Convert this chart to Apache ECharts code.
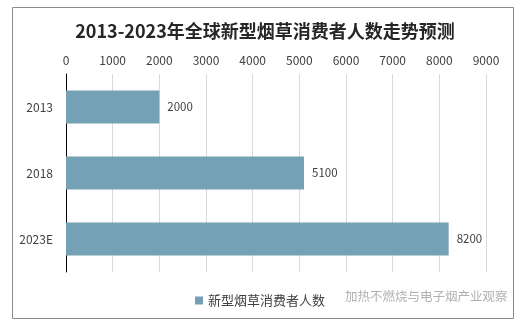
<!DOCTYPE html>
<html>
<head>
<meta charset="utf-8">
<script src="https://cdn.jsdelivr.net/npm/echarts@6/dist/echarts.min.js"></script>
<style>
  html, body { margin: 0; padding: 0; background: #fff; }
  #chart { width: 530px; height: 328px; }
</style>
</head>
<body>
<div id="chart"></div>
<script>
// Global new-type tobacco consumers, 2013–2023 (forecast)
const categories = ['2013', '2018', '2023E'];
const consumers = [2000, 5100, 8200];
const seriesName = '新型烟草消费者人数';
const titleText = '2013-2023年全球新型烟草消费者人数走势预测';
const watermark = '加热不燃烧与电子烟产业观察';

const FONT = '"Noto Sans CJK SC", "Noto Sans", sans-serif';
const chart = echarts.init(document.getElementById('chart'), null, { renderer: 'canvas' });

chart.setOption({
  backgroundColor: '#fff',
  animation: false,
  title: {
    text: titleText,
    left: 'center',
    top: 17,
    textStyle: { fontFamily: FONT, fontSize: 18, fontWeight: 'bold', color: '#262626' }
  },
  legend: {
    data: [seriesName],
    left: 190,
    top: 289,
    icon: 'rect',
    itemWidth: 8,
    itemHeight: 8,
    itemGap: 4,
    textStyle: { fontFamily: FONT, fontSize: 13, color: '#404040' }
  },
  grid: { left: 66, right: 44, top: 74, bottom: 56 },
  xAxis: {
    type: 'value',
    position: 'top',
    min: 0,
    max: 9000,
    interval: 1000,
    axisLine: { show: false },
    axisTick: { show: false },
    axisLabel: {
      fontFamily: FONT, fontSize: 12, color: '#404040', margin: 8,
      formatter: v => String(v)
    },
    splitLine: { lineStyle: { color: '#d9d9d9', width: 1 } }
  },
  yAxis: {
    type: 'category',
    data: categories,
    inverse: true,
    axisLine: { show: true, lineStyle: { color: '#000', width: 1 } },
    axisTick: { show: false },
    axisLabel: { fontFamily: FONT, fontSize: 12, color: '#404040', margin: 13 }
  },
  series: [{
    name: seriesName,
    type: 'bar',
    data: consumers,
    barWidth: '50%',
    itemStyle: { color: '#74A1B3' },
    label: {
      show: true,
      position: 'right',
      distance: 8,
      fontFamily: FONT,
      fontSize: 11.5,
      color: '#404040'
    }
  }],
  graphic: [
    {
      type: 'rect',
      silent: true,
      shape: { x: 12.5, y: 7.5, width: 501, height: 311 },
      style: { fill: 'none', stroke: '#8c8c8c', lineWidth: 1 }
    },
    {
      type: 'text',
      silent: true,
      left: 345,
      top: 290,
      style: {
        text: watermark,
        fontFamily: FONT,
        fontSize: 12.5,
        fill: 'rgba(150,150,150,0.75)'
      }
    }
  ]
});
</script>
</body>
</html>
